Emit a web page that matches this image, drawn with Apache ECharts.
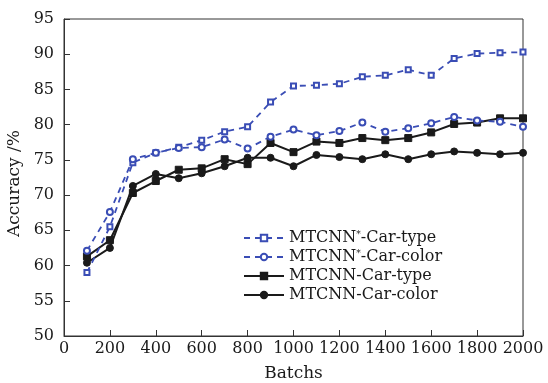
<!DOCTYPE html>
<html>
<head>
<meta charset="utf-8">
<script src="https://cdn.jsdelivr.net/npm/echarts@6/dist/echarts.min.js"></script>
<style>
  html, body { margin: 0; padding: 0; background: #fff; }
  #chart { width: 548px; height: 383px; }
</style>
</head>
<body>
<div id="chart"></div>
<script>
const batches = [100, 200, 300, 400, 500, 600, 700, 800, 900, 1000,
  1100, 1200, 1300, 1400, 1500, 1600, 1700, 1800, 1900, 2000];

const starCarType = [59.0, 65.5, 74.6, 76.0, 76.8, 77.8, 79.0, 79.7, 83.2, 85.5,
  85.6, 85.8, 86.8, 87.0, 87.8, 87.0, 89.4, 90.1, 90.2, 90.3];
const starCarColor = [62.1, 67.6, 75.1, 76.0, 76.7, 76.8, 77.9, 76.6, 78.3, 79.3,
  78.5, 79.1, 80.3, 79.0, 79.5, 80.2, 81.1, 80.6, 80.4, 79.7];
const carType = [61.3, 63.6, 70.3, 72.0, 73.6, 73.8, 75.1, 74.4, 77.4, 76.1,
  77.6, 77.4, 78.1, 77.8, 78.1, 78.9, 80.1, 80.3, 80.9, 80.9];
const carColor = [60.4, 62.5, 71.3, 73.0, 72.4, 73.1, 74.1, 75.3, 75.3, 74.1,
  75.7, 75.4, 75.1, 75.8, 75.1, 75.8, 76.2, 76.0, 75.8, 76.0];

const seriesNames = ["MTCNN*-Car-type", "MTCNN*-Car-color", "MTCNN-Car-type", "MTCNN-Car-color"];

const BLUE = "#3a4db5";
const INK = "#1a1a1a";
const FONT = "'DejaVu Serif', 'Liberation Serif', serif";

function pairs(values) {
  return batches.map((b, i) => [b, values[i]]);
}

function makeSeries(name, values, color, dashed, symbol, size) {
  return {
    type: "line",
    name,
    data: pairs(values),
    symbol,
    symbolSize: size,
    showSymbol: true,
    lineStyle: { color, width: dashed ? 1.8 : 2, type: dashed ? [6, 5] : "solid" },
    itemStyle: { color, borderColor: color, borderWidth: dashed ? 1.5 : 1 },
    emphasis: { disabled: true },
    z: dashed ? 3 : 2,
  };
}

const chart = echarts.init(document.getElementById("chart"), null, { renderer: "canvas" });

chart.setOption({
  backgroundColor: "#fff",
  animation: false,
  textStyle: { fontFamily: FONT, color: INK },
  legend: {
    left: 238,
    top: 225,
    orient: "vertical",
    itemWidth: 40,
    itemHeight: 8,
    itemGap: 3,
    textStyle: {
      fontFamily: FONT,
      fontSize: 16,
      color: INK,
      rich: { sup: { fontSize: 9, verticalAlign: "top", fontFamily: FONT, color: INK, padding: [0, 0, 6, 0] } },
    },
    formatter: (name) => name.replace("*", "{sup|*}"),
    data: seriesNames,
  },
  grid: {
    left: 64,
    right: 25,
    top: 19,
    bottom: 47,
    show: true,
    borderColor: "#333",
    borderWidth: 1,
    containLabel: false,
    outerBoundsMode: "none",
  },
  xAxis: {
    type: "value",
    min: 0,
    max: 2000,
    interval: 200,
    name: "Batchs",
    nameLocation: "middle",
    nameGap: 29,
    nameTextStyle: { fontFamily: FONT, fontSize: 17, color: INK },
    axisLine: { lineStyle: { color: "#333", width: 1 } },
    axisTick: { inside: true, length: 6, lineStyle: { color: "#333" } },
    axisLabel: { fontFamily: FONT, fontSize: 16, color: INK, margin: 5, formatter: (v) => String(v) },
    splitLine: { show: false },
  },
  yAxis: {
    type: "value",
    min: 50,
    max: 95,
    interval: 5,
    name: "Accuracy /%",
    nameLocation: "middle",
    nameGap: 37,
    nameTextStyle: { fontFamily: FONT, fontSize: 17, color: INK, padding: [0, 12, 0, 0] },
    axisLine: { lineStyle: { color: "#333", width: 1 } },
    axisTick: { inside: true, length: 6, lineStyle: { color: "#333" } },
    axisLabel: { fontFamily: FONT, fontSize: 16, color: INK, margin: 10 },
    splitLine: { show: false },
  },
  series: [
    makeSeries(seriesNames[0], starCarType, BLUE, true, "emptyRect", 5),
    makeSeries(seriesNames[1], starCarColor, BLUE, true, "emptyCircle", 6),
    makeSeries(seriesNames[2], carType, INK, false, "rect", 7),
    makeSeries(seriesNames[3], carColor, INK, false, "circle", 7),
  ],
});
</script>
</body>
</html>
